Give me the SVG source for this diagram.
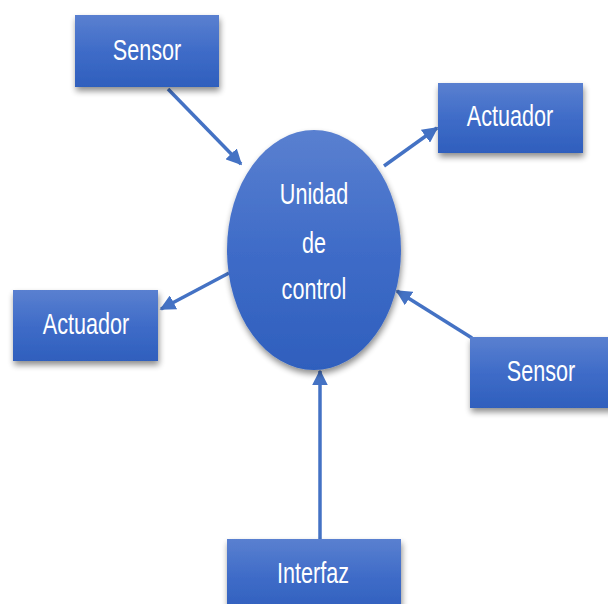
<svg xmlns="http://www.w3.org/2000/svg" width="608" height="604" viewBox="0 0 608 604">
<style>
.node{fill:url(#g);filter:url(#sh)}
.lbl{font-family:"Liberation Sans",Arial,sans-serif;font-size:30px;fill:#ffffff;text-anchor:middle}
.con{stroke:#4472C4;stroke-width:3.5;fill:none;marker-end:url(#ah)}
</style>
<defs>
<linearGradient id="g" x1="0" y1="0" x2="0" y2="1">
<stop offset="0" stop-color="#5a80d0"/>
<stop offset="0.5" stop-color="#3f6cc8"/>
<stop offset="1" stop-color="#2f5fbd"/>
</linearGradient>
<filter id="sh" x="-20%" y="-20%" width="140%" height="150%">
<feGaussianBlur in="SourceAlpha" stdDeviation="3"/>
<feOffset dx="1" dy="4" result="b"/>
<feComponentTransfer><feFuncA type="linear" slope="0.45"/></feComponentTransfer>
<feMerge><feMergeNode/><feMergeNode in="SourceGraphic"/></feMerge>
</filter>
<marker id="ah" viewBox="0 0 10 10" refX="9" refY="5" markerWidth="4.5" markerHeight="4.5" orient="auto" markerUnits="strokeWidth">
<path d="M0,0 L10,5 L0,10 z" fill="#4472C4"/>
</marker>
</defs>
<g id="connectors">
<line class="con" x1="168" y1="89" x2="241" y2="164"/>
<line class="con" x1="384" y1="166" x2="437" y2="128"/>
<line class="con" x1="229" y1="273" x2="161" y2="309"/>
<line class="con" x1="472" y1="338" x2="397" y2="291"/>
<line class="con" x1="320" y1="539" x2="320" y2="371"/>
</g>
<g id="unidad">
<ellipse class="node" cx="314" cy="250" rx="87" ry="120"/>
<text class="lbl" transform="translate(314,204) scale(0.72,1)">Unidad</text>
<text class="lbl" transform="translate(314,253) scale(0.72,1)">de</text>
<text class="lbl" transform="translate(314,299) scale(0.72,1)">control</text>
</g>
<g id="sensor1">
<rect class="node" x="75" y="15" width="144" height="72"/>
<text class="lbl" transform="translate(147,60) scale(0.72,1)">Sensor</text>
</g>
<g id="actuador1">
<rect class="node" x="438" y="83" width="145" height="70"/>
<text class="lbl" transform="translate(510,126) scale(0.72,1)">Actuador</text>
</g>
<g id="actuador2">
<rect class="node" x="13" y="290" width="145" height="71"/>
<text class="lbl" transform="translate(86,334) scale(0.72,1)">Actuador</text>
</g>
<g id="sensor2">
<rect class="node" x="470" y="337" width="145" height="71"/>
<text class="lbl" transform="translate(541,381) scale(0.72,1)">Sensor</text>
</g>
<g id="interfaz">
<rect class="node" x="227" y="539" width="174" height="75"/>
<text class="lbl" transform="translate(313,583) scale(0.72,1)">Interfaz</text>
</g>
</svg>
